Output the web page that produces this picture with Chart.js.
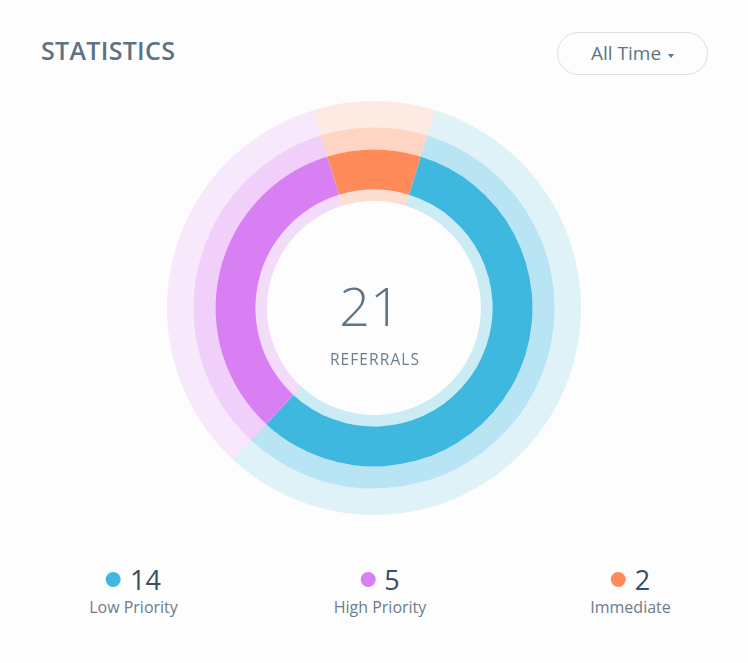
<!DOCTYPE html>
<html>
<head>
<meta charset="utf-8">
<script src="https://cdn.jsdelivr.net/npm/chart.js@4/dist/chart.umd.min.js"></script>
<style>
  html, body { margin: 0; padding: 0; background: #fdfdfd; }
  body { width: 748px; height: 663px; position: relative; overflow: hidden; font-family: "Open Sans", "DejaVu Sans", sans-serif; }
  .abs { position: absolute; line-height: 1; white-space: nowrap; }
  #title { left: 41px; top: 38px; font-size: 25px; font-weight: 600; color: #5e7285; letter-spacing: 0.3px; }
  #btn { position: absolute; left: 557px; top: 32px; width: 149px; height: 41px; border: 1px solid #dcdde0; border-radius: 22px; background: #fdfdfd; }
  #btnText { left: 33px; top: 11px; font-size: 19px; color: #5f7386; }
  #caret { position: absolute; left: 110px; top: 21px; width: 0; height: 0; border-left: 3px solid transparent; border-right: 3px solid transparent; border-top: 4px solid #5f7386; }
  #wrap { position: absolute; left: 167px; top: 101px; width: 414px; height: 414px; }
  #total { left: 370px; top: 278px; transform: translateX(-50%); font-size: 54px; font-weight: 300; color: #617588; }
  #sub { left: 375px; top: 352px; transform: translateX(-50%); font-size: 15.5px; color: #6a7d8e; letter-spacing: 1.1px; }
  .lg { position: absolute; transform: translateX(-50%); text-align: center; }
  .row { display: flex; align-items: center; justify-content: center; height: 30px; }
  .dot { width: 15px; height: 15px; border-radius: 50%; margin-right: 9px; }
  .num { font-size: 27px; font-weight: 400; color: #3a4e63; line-height: 1; }
  .lab { font-size: 16px; color: #6b7c8d; line-height: 1; margin-top: 5px; white-space: nowrap; }
</style>
</head>
<body>
<div id="title" class="abs">STATISTICS</div>
<div id="btn"><div id="btnText" class="abs">All Time</div><div id="caret"></div></div>
<div id="wrap"><canvas id="c"></canvas></div>
<div id="total" class="abs"></div>
<div id="sub" class="abs">REFERRALS</div>
<div id="legend"></div>
<script>
// Categories and values
const categories = ["Low Priority", "High Priority", "Immediate"];
const legendCounts = [14, 5, 2];          // numbers printed in the legend
const arcShares = [12, 7, 2];             // slice sizes as drawn in the picture
const totalLabel = 21;
const baseColors = [[63, 184, 224], [217, 127, 244], [255, 139, 90]];

// Ring layers: outer halo, middle halo, main ring, inner halo
const ringAlphas = [0.16, 0.36, 1, 0.26];
const ringWeights = [26.5, 22, 40, 11.5];

const rgba = (c, a) => `rgba(${c[0]},${c[1]},${c[2]},${a})`;
const total = arcShares.reduce((a, b) => a + b, 0);
const startRotation = 180 * arcShares[arcShares.length - 1] / total;

const datasets = ringAlphas.map((a, i) => ({
  data: arcShares,
  backgroundColor: baseColors.map(c => rgba(c, a)),
  borderWidth: 0,
  hoverOffset: 0,
  weight: ringWeights[i]
}));

new Chart(document.getElementById('c'), {
  type: 'doughnut',
  data: { labels: categories, datasets },
  options: {
    responsive: true,
    maintainAspectRatio: false,
    animation: false,
    cutout: '51.7%',
    rotation: startRotation,
    layout: { padding: 0 },
    plugins: { legend: { display: false }, tooltip: { enabled: false } },
    events: []
  }
});

document.getElementById('total').textContent = totalLabel;

const centers = [133.5, 380, 630.5];
const legend = document.getElementById('legend');
categories.forEach((name, i) => {
  const g = document.createElement('div');
  g.className = 'lg';
  g.style.left = centers[i] + 'px';
  g.style.top = '564px';
  g.innerHTML = `<div class="row"><div class="dot" style="background:${rgba(baseColors[i],1)}"></div><div class="num">${legendCounts[i]}</div></div><div class="lab">${name}</div>`;
  legend.appendChild(g);
});
</script>
</body>
</html>
